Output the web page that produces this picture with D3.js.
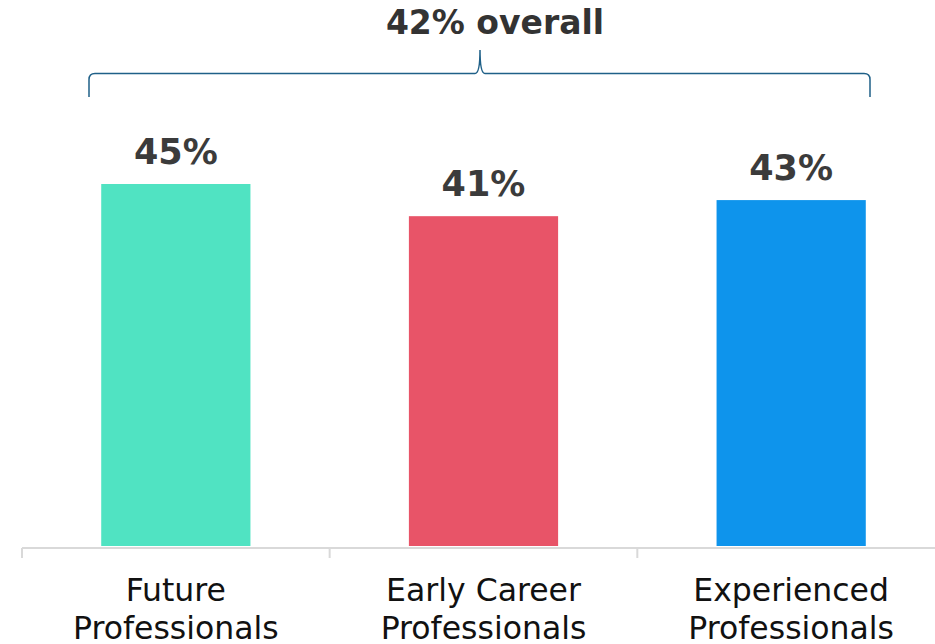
<!DOCTYPE html>
<html><head><meta charset="utf-8">
<script src="https://cdn.jsdelivr.net/npm/d3@7"></script>
<style>body{margin:0;background:#fff;} svg{display:block;}</style>
</head><body>
<svg id="chart" width="935" height="644"></svg>
<script>
const categories = [["Future","Professionals"],["Early Career","Professionals"],["Experienced","Professionals"]];
const values = [45, 41, 43];
const valueLabels = ["45%","41%","43%"];
const colors = ["#50E3C2","#E85468","#0E94EC"];
const overallLabel = "42% overall";

const svg = d3.select("#chart");
const font = "DejaVu Sans, Verdana, sans-serif";
const x = d3.scaleBand().domain(d3.range(categories.length)).range([22, 945]).paddingInner(0.515).paddingOuter(0.2575);
const y = d3.scaleLinear().domain([0, 45]).range([546, 184]);

svg.selectAll("rect.bar").data(values).join("rect").attr("class","bar")
  .attr("x",(d,i)=>x(i)).attr("width",x.bandwidth())
  .attr("y",d=>y(d)).attr("height",d=>y(0)-y(d))
  .attr("fill",(d,i)=>colors[i]);

// axis
const xa = d3.scaleBand().domain(d3.range(categories.length)).range([22, 945]);
const ag = svg.append("g");
ag.append("line").attr("x1",22).attr("x2",935).attr("y1",548).attr("y2",548).attr("stroke","#d9d9d9").attr("stroke-width",2);
ag.selectAll("line.tick").data(d3.range(categories.length+1)).join("line").attr("class","tick")
  .attr("x1",i=>22+i*xa.step()).attr("x2",i=>22+i*xa.step()).attr("y1",548).attr("y2",558)
  .attr("stroke","#d9d9d9").attr("stroke-width",2);

const tl = svg.selectAll("text.cat").data(categories).join("text").attr("class","cat")
  .attr("x",(d,i)=>xa(i)+xa.bandwidth()/2).attr("y",601)
  .attr("text-anchor","middle").attr("font-family",font).attr("font-size",31.5).attr("fill","#111");
tl.selectAll("tspan").data(d=>d).join("tspan")
  .attr("x",function(){return this.parentNode.getAttribute("x");})
  .attr("dy",(d,j)=>j?38:0).text(d=>d);

svg.selectAll("text.val").data(values).join("text").attr("class","val")
  .attr("x",(d,i)=>x(i)+x.bandwidth()/2).attr("y",d=>y(d)-20)
  .attr("text-anchor","middle").attr("font-family",font).attr("font-weight","bold")
  .attr("font-size",35).attr("fill","#3b3b3b").text((d,i)=>valueLabels[i]);

// bracket
const bx0 = 89, bx1 = 870, bm = 480, by = 73.5, bb = 97, bt = 50;
const p = d3.path();
p.moveTo(bx0, bb);
p.lineTo(bx0, by+6);
p.quadraticCurveTo(bx0, by, bx0+6, by);
p.lineTo(bm-5, by);
p.quadraticCurveTo(bm, by, bm, bt);
p.quadraticCurveTo(bm, by, bm+5, by);
p.lineTo(bx1-6, by);
p.quadraticCurveTo(bx1, by, bx1, by+6);
p.lineTo(bx1, bb);
svg.append("path").attr("d",p.toString()).attr("fill","none").attr("stroke","#1f6088").attr("stroke-width",1.5);

svg.append("text").attr("x",495).attr("y",34).attr("text-anchor","middle")
  .attr("font-family",font).attr("font-weight","bold").attr("font-size",33).attr("fill","#333")
  .text(overallLabel);
</script>
</body></html>
